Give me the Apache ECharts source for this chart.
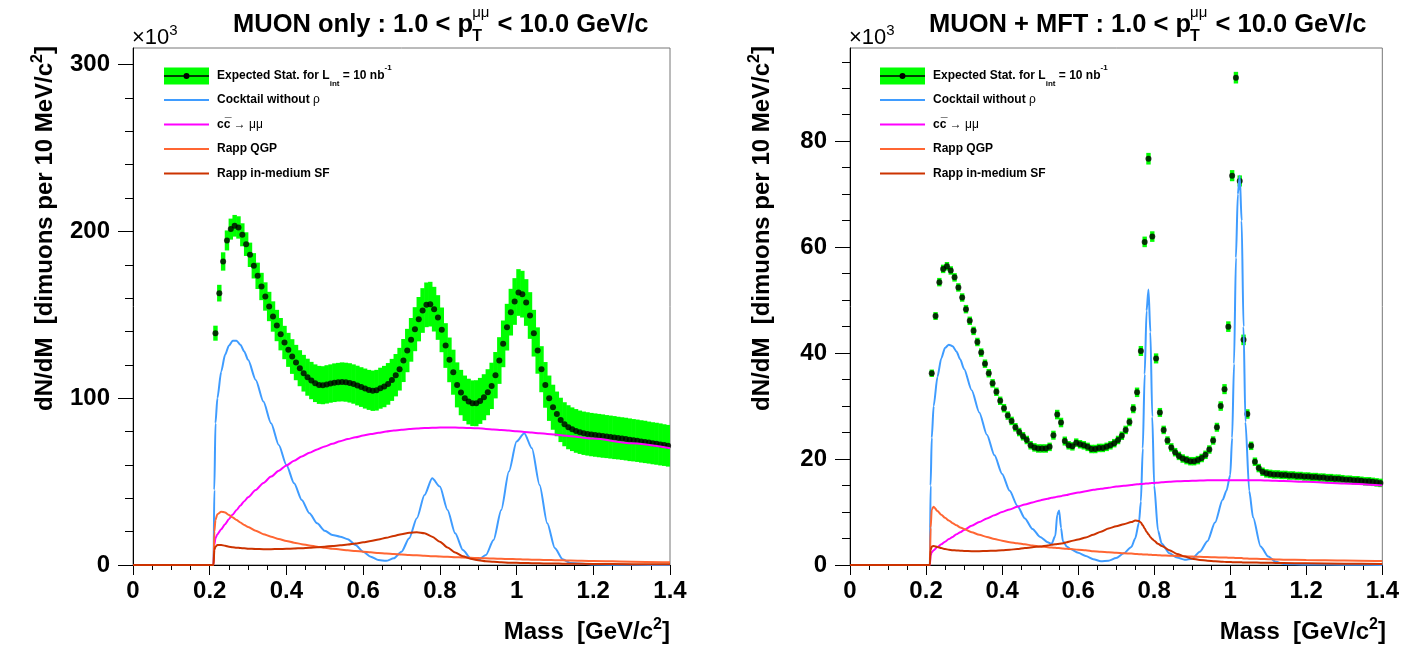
<!DOCTYPE html>
<html><head><meta charset="utf-8">
<script src="https://cdn.jsdelivr.net/npm/echarts@6/dist/echarts.min.js"></script>
<style>html,body{margin:0;padding:0;background:#fff}#c{width:1402px;height:645px}</style>
</head><body><div id="c"></div>
<script>
// ---------------- DATA ----------------
const massBins = [0.215,0.225,0.235,0.245,0.255,0.265,0.275,0.285,0.295,0.305,0.315,0.325,0.335,0.345,0.355,0.365,0.375,0.385,0.395,0.405,0.415,0.425,0.435,0.445,0.455,0.465,0.475,0.485,0.495,0.505,0.515,0.525,0.535,0.545,0.555,0.565,0.575,0.585,0.595,0.605,0.615,0.625,0.635,0.645,0.655,0.665,0.675,0.685,0.695,0.705,0.715,0.725,0.735,0.745,0.755,0.765,0.775,0.785,0.795,0.805,0.815,0.825,0.835,0.845,0.855,0.865,0.875,0.885,0.895,0.905,0.915,0.925,0.935,0.945,0.955,0.965,0.975,0.985,0.995,1.005,1.015,1.025,1.035,1.045,1.055,1.065,1.075,1.085,1.095,1.105,1.115,1.125,1.135,1.145,1.155,1.165,1.175,1.185,1.195,1.205,1.215,1.225,1.235,1.245,1.255,1.265,1.275,1.285,1.295,1.305,1.315,1.325,1.335,1.345,1.355,1.365,1.375,1.385,1.395];

// MUON only: expected counts (x10^3) and errors
const muonCounts = [139,163,182,194.6,201.4,203.4,202.4,198,192.4,186,179.4,173.4,167,161,155,149,143.6,138.4,133.4,129,125,121.4,118,115,112.6,110.6,109,108,107.8,
108.3,108.8,109.3,109.6,109.8,109.6,109.2,108.5,107.6,106.7,105.8,105,104.5,104.8,
106,107,108.6,111,113.8,117.4,122.6,128.6,135,141.4,147.4,152.6,156,156.4,153.4,148.4,141,131.6,123,115.6,108,103.4,100,98,97,97,98.4,100.6,103.6,107.4,113.8,122.6,132.6,142.6,151.6,158,163.4,162.4,157.4,149.6,139,128.6,117.4,108,100,94.6,90.6,87,84.4,82.6,81.4,80.4,
79.6,79.0,78.6,78.2,77.9,77.6,77.3,77.0,76.7,76.4,76.1,75.8,75.5,75.1,74.8,74.5,74.1,73.8,73.4,73.0,72.7,72.3,71.9,71.5];
const muonErrors = [4.5,5,5.5,6,6.3,6.5,6.7,6.9,7.1,7.3,
7.6,7.9,8.2,8.5,8.8,9.1,9.4,9.7,10,10.2,
10.4,10.6,10.8,11,11.1,11.2,11.3,11.4,11.4,11.5,
11.5,11.6,11.6,11.7,11.7,11.8,11.8,11.9,11.9,12,
12,12.1,12.2,12.3,12.4,12.5,12.6,12.7,12.8,12.9,
13,13.1,13.2,13.3,13.4,13.4,13.4,13.4,13.4,13.4,
13.4,13.4,13.5,13.5,13.6,13.6,13.7,13.7,13.8,13.8,
13.8,13.8,13.9,13.9,14,14,14,14,14,14,
14,14,14,14,13.9,13.8,13.7,13.6,13.5,13.4,
13.3,13.2,13.2,13.1,13.1,13,13,13,13,13,
13,13,12.9,12.9,12.9,12.8,12.8,12.8,12.8,12.7,
12.7,12.7,12.7,12.6,12.6,12.6,12.6,12.5,12.5];

// MUON + MFT
const mftCounts = [36.2,47.0,53.4,55.9,56.4,55.6,54.3,52.4,50.5,48.3,46.1,44.2,42.1,40.1,38.0,36.2,34.3,32.7,31.0,29.6,28.2,27.2,26.0,25.1,24.3,23.6,22.6,22.2,22.0,22.0,22.0,22.3,24.5,28.4,26.9,23.4,22.6,22.4,23.1,22.8,22.6,22.3,21.9,21.9,22.1,
22.1,22.3,22.6,23.0,23.6,24.4,25.5,27,29.5,32.6,40.4,61,76.7,62,39,28.8,25.5,23.5,22.2,21.3,20.6,20.1,19.8,19.6,19.6,19.8,20.2,20.8,21.8,23.5,26,30,33.2,45,73.5,92,72.5,42.5,28.5,22.5,19.5,18.3,17.6,17.3,
17.2,17.1,17.1,17.0,17.0,16.9,16.9,16.8,16.8,16.7,16.7,16.6,16.6,16.5,16.5,16.4,16.4,16.3,16.3,16.2,16.1,16.1,16.0,16.0,15.9,15.8,15.8,15.7,15.6,15.5];
const mftErrors = [0.7,0.75,0.8,0.8,0.8,0.8,0.8,0.8,0.8,0.8,
0.8,0.8,0.8,0.8,0.8,0.8,0.8,0.8,0.8,0.8,
0.8,0.8,0.8,0.8,0.8,0.8,0.8,0.8,0.8,0.8,
0.8,0.8,0.85,0.9,0.9,0.85,0.8,0.8,0.8,0.8,
0.8,0.8,0.8,0.8,0.8,0.8,0.8,0.8,0.8,0.8,
0.8,0.8,0.8,0.85,0.9,0.95,1.0,1.1,1.0,0.95,
0.85,0.8,0.8,0.8,0.8,0.8,0.8,0.8,0.8,0.8,
0.8,0.8,0.8,0.8,0.8,0.85,0.9,0.95,1.0,1.05,1.1,1.05,1.0,0.9,0.8,0.8,0.8,0.8,0.8,
0.8,0.8,0.8,0.8,0.8,0.8,0.8,0.8,0.8,0.8,0.8,0.8,0.8,0.8,0.8,0.8,0.8,0.8,0.8,0.8,0.8,0.8,0.8,0.8,0.8,0.8,0.8,0.8,0.8,0.8];

// model curves, MUON only panel
const muonCurveMass = [0,0.21,0.212,0.215,0.22,0.23,0.24,0.25,0.26,0.27,0.28,0.29,0.30,0.32,0.34,0.36,0.38,0.40,0.42,0.44,0.46,0.48,0.50,0.52,0.54,0.56,0.58,0.60,0.62,0.64,0.66,0.68,0.70,0.72,0.74,0.76,0.78,0.80,0.82,0.84,0.86,0.88,0.90,0.92,0.94,0.96,0.98,1.00,1.02,1.04,1.06,1.08,1.10,1.12,1.14,1.2,1.3,1.4];
const muonCocktail = [0,0,45,85,100,116,126,131.5,134.5,134.5,132,128,123,111,98,85,72,60,49,39,31,25,20.5,18,17,15.5,12,8,5,3,2.5,4,8,16,28,42,52,47,33,19,9,4,3,6,15,33,56,74,79,70,48,25,10,3.5,1.2,0.3,0.1,0];
const muonCharm = [0,0,12,16,18.5,21.5,24.5,27.5,30.3,33,35.7,38.2,40.6,45,49.2,53,56.5,59.7,62.5,65,67.3,69.3,71.1,72.7,74.2,75.5,76.6,77.6,78.5,79.3,80,80.6,81.1,81.5,81.8,82.1,82.3,82.4,82.4,82.4,82.3,82.1,82,81.6,81.3,80.9,80.6,80.2,79.8,79.4,79,78.6,78.2,77.7,77.2,75.8,73,70];
const muonQGP = [0,0,20,27,30.5,32,31.5,30,28.5,27,25.5,24,22.8,20.5,18.5,17,15.6,14.4,13.4,12.5,11.7,11,10.4,9.8,9.3,8.8,8.4,8,7.6,7.2,6.9,6.6,6.3,6,5.8,5.5,5.3,5.1,4.9,4.7,4.5,4.3,4.2,4,3.9,3.7,3.6,3.5,3.3,3.2,3.1,3,2.9,2.8,2.7,2.4,2,1.7];
const muonSF = [0,0,9,11,12,12,11.5,11,10.7,10.4,10.2,10,9.8,9.6,9.5,9.5,9.6,9.7,9.9,10.1,10.4,10.7,11,11.4,11.8,12.3,12.9,13.6,14.4,15.3,16.3,17.4,18.5,19.3,19.6,19,17,14,10.5,7.5,5.3,3.8,2.9,2.3,1.9,1.6,1.4,1.3,1.2,1.1,1.0,0.9,0.85,0.8,0.75,0.6,0.5,0.4];

// model curves, MUON + MFT panel
const mftCurveMass = [0,0.21,0.212,0.215,0.22,0.23,0.24,0.25,0.26,0.27,0.28,0.29,0.30,0.32,0.34,0.36,0.38,0.40,0.42,0.44,0.46,0.48,0.50,0.52,0.53,0.54,0.545,0.55,0.555,0.56,0.57,0.58,0.60,0.62,0.64,0.66,0.68,0.70,0.72,0.74,0.75,0.76,0.765,0.77,0.775,0.78,0.785,0.79,0.795,0.80,0.81,0.82,0.84,0.86,0.88,0.90,0.92,0.94,0.96,0.98,0.99,1.00,1.005,1.01,1.015,1.02,1.025,1.03,1.035,1.04,1.05,1.06,1.08,1.10,1.12,1.14,1.2,1.3,1.4];
const mftCocktail = [0,0,15,24,30,35.5,39,41,41.6,41.3,40.3,38.8,37,33,28.8,24.6,20.7,17.2,14,11.2,8.8,6.8,5.3,4.3,4.0,5.5,9.5,10.3,7,4.5,3.5,3,2.3,1.7,1.1,0.7,0.8,1.3,2.2,3.4,5,8,12,22,36,48,52,44,28,15,6.5,4,2.2,1.4,1.0,1.2,2.5,4.5,8,12.3,14,17,24,38,58,70,73.5,65,45,27,14,9,3.5,1.6,0.6,0.2,0.1,0.05,0];
const mftCharm = [0,0,1.8,2.4,2.8,3.4,3.9,4.4,4.9,5.3,5.8,6.2,6.6,7.4,8.1,8.8,9.4,10,10.5,11,11.4,11.8,12.2,12.5,12.7,12.8,12.9,12.95,13,13.1,13.2,13.4,13.7,13.9,14.2,14.4,14.6,14.8,14.95,15.1,15.2,15.25,15.3,15.3,15.35,15.4,15.4,15.45,15.5,15.5,15.55,15.6,15.7,15.8,15.85,15.9,15.95,16,16,16,16,16,16,16,16,16,16,16,16,16,16,16,16,15.95,15.9,15.85,15.7,15.4,15.0];
const mftQGP = [0,0,7,10.5,11,10.2,9.5,8.9,8.4,7.9,7.5,7.1,6.8,6.2,5.7,5.3,4.9,4.6,4.3,4.1,3.9,3.7,3.5,3.35,3.3,3.25,3.2,3.2,3.15,3.1,3.05,3.0,2.9,2.8,2.6,2.5,2.4,2.3,2.2,2.15,2.1,2.05,2.05,2.0,2.0,2.0,1.95,1.95,1.9,1.9,1.85,1.8,1.75,1.7,1.65,1.6,1.55,1.5,1.45,1.4,1.4,1.35,1.35,1.35,1.3,1.3,1.3,1.3,1.25,1.25,1.2,1.2,1.15,1.1,1.05,1.0,0.95,0.85,0.75];
const mftSF = [0,0,2.8,3.5,3.6,3.4,3.2,3.0,2.9,2.8,2.75,2.7,2.65,2.6,2.6,2.65,2.7,2.8,2.9,3.0,3.2,3.35,3.5,3.7,3.8,3.9,3.95,4.0,4.05,4.1,4.3,4.5,4.8,5.2,5.7,6.3,6.9,7.3,7.7,8.1,8.4,8.3,8.0,7.5,6.9,6.3,5.8,5.3,4.9,4.6,4.0,3.6,2.8,2.1,1.6,1.2,0.95,0.8,0.7,0.6,0.58,0.55,0.54,0.53,0.52,0.51,0.5,0.5,0.49,0.48,0.47,0.46,0.44,0.42,0.4,0.38,0.32,0.25,0.2];

// axis ticks
const massTicks = [0,0.2,0.4,0.6,0.8,1.0,1.2,1.4];
const muonYMajor = [0,100,200,300];
const muonYMinor = [20,40,60,80,120,140,160,180,220,240,260,280];
const mftYMajor = [0,20,40,60,80];
const mftYMinor = [5,10,15,25,30,35,45,50,55,65,70,75,85,90,95];

// names
const nameData = 'Expected Stat. for L_int = 10 nb^-1';
const nameCocktail = 'Cocktail without ρ';
const nameCharm = 'cc → μμ';
const nameQGP = 'Rapp QGP';
const nameSF = 'Rapp in-medium SF';

// ---------------- STYLE ----------------
const FONT = '"Liberation Sans", Arial, Helvetica, sans-serif';
const C_GREEN = '#00ff00', C_BLUE = '#3f9cff', C_MAG = '#ff00ff', C_QGP = '#ff6633', C_SF = '#cc3300';

const chart = echarts.init(document.getElementById('c'));

function measure(text, font){
  const ctx = document.createElement('canvas').getContext('2d');
  ctx.font = font; return ctx.measureText(text).width;
}
function zip(xs, ys){ return xs.map((x,i)=>[x, ys[i]]); }
function zip3(xs, ys, es){ return xs.map((x,i)=>[x, ys[i], es[i]]); }

const panels = [
  {gx0:133, gx1:670, top:48, ymax:310, major:muonYMajor, minor:muonYMinor, pre:'MUON only : 1.0 < p', titleX:233, ytX:45, legX:164,
   counts:muonCounts, errors:muonErrors, cx:muonCurveMass, cock:muonCocktail, charm:muonCharm, qgp:muonQGP, sf:muonSF},
  {gx0:850, gx1:1386, top:48, ymax:97.6, major:mftYMajor, minor:mftYMinor, pre:'MUON + MFT : 1.0 < p', titleX:929, ytX:762, legX:880,
   counts:mftCounts, errors:mftErrors, cx:mftCurveMass, cock:mftCocktail, charm:mftCharm, qgp:mftQGP, sf:mftSF}
];

const grid=[], xAxis=[], yAxis=[], series=[], legend=[], graphic=[];
const lblStyle = {fontSize:24, fontWeight:'bold', fontFamily:FONT, color:'#000'};

const richLeg = {
  t:{fontSize:12, fontWeight:'bold', fontFamily:FONT, color:'#000', lineHeight:24, verticalAlign:'middle'},
  s:{fontSize:8, fontWeight:'bold', fontFamily:FONT, color:'#000', lineHeight:10, verticalAlign:'bottom'},
  p:{fontSize:8, fontWeight:'bold', fontFamily:FONT, color:'#000', lineHeight:16, verticalAlign:'top'},
  n:{fontSize:12, fontFamily:FONT, color:'#000', lineHeight:16, verticalAlign:'middle'},
  o:{fontSize:12, fontWeight:'bold', fontFamily:FONT, color:'#000', lineHeight:16, verticalAlign:'middle'}
};
const richLegHidden = {};
Object.keys(richLeg).forEach(k=>{ richLegHidden[k] = Object.assign({}, richLeg[k], {color:'rgba(0,0,0,0)'}); });
function legFmt(name){
  if (name === nameData) return '{t|Expected Stat. for L}{s|int}{t| = 10 nb}{p|-1}';
  if (name === nameCharm) return '{o|cc\u0305}{n| \u2192 \u03bc\u03bc}';
  if (name === nameCocktail) return '{o|Cocktail without }{n|\u03c1}';
  return '{o|' + name + '}';
}

panels.forEach((P, k) => {
  grid.push({left:P.gx0, right:1402-P.gx1, top:P.top, bottom:80, show:true, borderColor:'#777', borderWidth:1, backgroundColor:'transparent'});
  xAxis.push({gridIndex:k, type:'value', min:0, max:1.4, interval:0.2,
    axisLine:{show:true, onZero:false, lineStyle:{color:'#000', width:1}},
    axisTick:{show:true, inside:false, length:10, lineStyle:{color:'#000'}},
    minorTick:{show:true, splitNumber:4, length:5, lineStyle:{color:'#000'}},
    axisLabel:Object.assign({margin:14, formatter:v=>String(+(+v).toFixed(1))}, lblStyle),
    splitLine:{show:false}, minorSplitLine:{show:false}});
  yAxis.push({gridIndex:k, type:'value', min:0, max:P.ymax, position:'left',
    axisLine:{show:true, onZero:false, lineStyle:{color:'#000', width:1}},
    axisTick:{show:true, inside:false, length:15, customValues:P.major, lineStyle:{color:'#000'}},
    axisLabel:Object.assign({margin:23, customValues:P.major}, lblStyle),
    splitLine:{show:false}});
  yAxis.push({gridIndex:k, type:'value', min:0, max:P.ymax, position:'left',
    axisLine:{show:false}, axisLabel:{show:false},
    axisTick:{show:true, inside:false, length:8, customValues:P.minor, lineStyle:{color:'#000'}},
    splitLine:{show:false}});
  const yi = 2*k;
  series.push({type:'custom', name:nameData, xAxisIndex:k, yAxisIndex:yi, clip:true, z:1,
    itemStyle:{color:C_GREEN},
    data:zip3(massBins, P.counts, P.errors), encode:{x:0, y:1},
    renderItem:function(params, api){
      const x=api.value(0), y=api.value(1), e=api.value(2);
      const a=api.coord([x-0.005, y+e]), b=api.coord([x+0.005, y-e]);
      return {type:'rect', shape:{x:a[0]-0.3, y:a[1], width:b[0]-a[0]+0.6, height:b[1]-a[1]}, style:{fill:C_GREEN}};
    }});
  series.push({type:'scatter', name:nameData, xAxisIndex:k, yAxisIndex:yi, symbol:'circle', symbolSize:6, z:2,
    itemStyle:{color:'#000'}, data:zip(massBins, P.counts)});
  [[nameCocktail,P.cock,C_BLUE],[nameCharm,P.charm,C_MAG],[nameQGP,P.qgp,C_QGP],[nameSF,P.sf,C_SF]].forEach(([nm, ys, col])=>{
    series.push({type:'line', name:nm, xAxisIndex:k, yAxisIndex:yi, data:zip(P.cx, ys), showSymbol:false, symbol:'none',
      smooth:0.25, smoothMonotone:'x', color:col, lineStyle:{color:col, width:2}, itemStyle:{color:col}, z:3});
  });

  // legends
  legend.push({left:P.legX, top:64, padding:0, orient:'vertical', itemWidth:45, itemHeight:17, selectedMode:false,
    data:[{name:nameData, icon:'rect', itemStyle:{color:C_GREEN}}], formatter:legFmt,
    textStyle:{rich:richLeg, padding:[0,0,0,3]}});
  legend.push({left:P.legX, top:64, padding:0, orient:'vertical', itemWidth:45, itemHeight:6, selectedMode:false,
    data:[{name:nameData, icon:'path://M0,2.3h45v1.4h-45z M19.5,3a3,3 0 1,1 6,0a3,3 0 1,1 -6,0z', itemStyle:{color:'#000'}}],
    formatter:legFmt, textStyle:{rich:richLegHidden, padding:[0,0,0,3]}});
  legend.push({left:P.legX, top:94, padding:0, orient:'vertical', itemWidth:45, itemHeight:2, itemGap:12.5, selectedMode:false, icon:'rect',
    data:[nameCocktail, nameCharm, nameQGP, nameSF], formatter:legFmt,
    textStyle:{rich:richLeg, padding:[0,0,0,3]}});

  // title
  const fMain = 'bold 25.5px ' + FONT;
  const w1 = measure(P.pre, fMain);
  const wT = measure('T', 'bold 16px ' + FONT), wM = measure('\u03bc\u03bc', '15px ' + FONT);
  const w2 = Math.max(wT, wM);
  graphic.push({type:'text', x:P.titleX, y:25, style:{text:P.pre, font:fMain, fill:'#000', verticalAlign:'middle'}});
  graphic.push({type:'text', x:P.titleX + w1 - 1, y:37, style:{text:'T', font:'bold 16px ' + FONT, fill:'#000', verticalAlign:'middle'}});
  graphic.push({type:'text', x:P.titleX + w1 - 1, y:13, style:{text:'\u03bc\u03bc', font:'15px ' + FONT, fill:'#000', verticalAlign:'middle'}});
  graphic.push({type:'text', x:P.titleX + w1 + w2, y:25, style:{text:' < 10.0 GeV/c', font:fMain, fill:'#000', verticalAlign:'middle'}});
  // x10^3
  graphic.push({type:'text', x:P.gx0 - 1, y:P.top + 1, style:{text:'{a|\u00d710}{s|3}', verticalAlign:'bottom',
    rich:{a:{fontSize:22, fontFamily:FONT, color:'#000', lineHeight:26, verticalAlign:'bottom'},
          s:{fontSize:15, fontFamily:FONT, color:'#000', lineHeight:16, verticalAlign:'top'}}}});
  // axis titles
  const richT = {a:{fontSize:24, fontWeight:'bold', fontFamily:FONT, color:'#000', lineHeight:30, verticalAlign:'middle'},
                 s:{fontSize:16, fontWeight:'bold', fontFamily:FONT, color:'#000', lineHeight:16, verticalAlign:'top'}};
  graphic.push({type:'text', x:P.ytX, y:P.top - 2, rotation:Math.PI/2,
    style:{text:'{a|dN/dM  [dimuons per 10 MeV/c}{s|2}{a|]}', rich:richT, align:'right', verticalAlign:'middle'}});
  graphic.push({type:'text', x:P.gx1, y:632,
    style:{text:'{a|Mass  [GeV/c}{s|2}{a|]}', rich:richT, align:'right', verticalAlign:'middle'}});
});

chart.setOption({animation:false, backgroundColor:'#fff', grid, xAxis, yAxis, series, legend, graphic});
</script></body></html>
